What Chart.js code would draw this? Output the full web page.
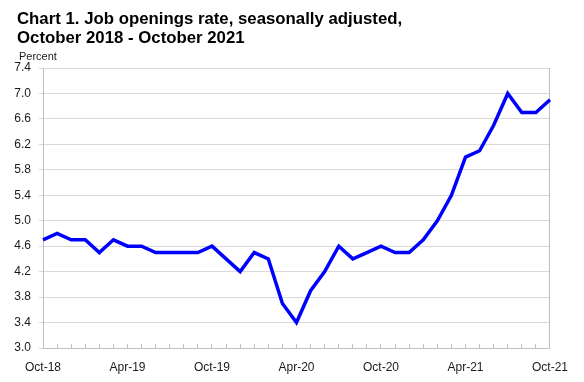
<!DOCTYPE html>
<html>
<head>
<meta charset="utf-8">
<script src="https://cdn.jsdelivr.net/npm/chart.js@4"></script>
<style>
  html, body { margin: 0; padding: 0; background: #ffffff; }
  #wrap { position: relative; width: 584px; height: 382px; overflow: hidden; }
  canvas { display: block; position: absolute; left: 0; top: 0; }
  #title {
    position: absolute; left: 17px; top: 9px; margin: 0;
    font-family: 'Liberation Sans', Arial, sans-serif; font-weight: bold;
    font-size: 16.8px; line-height: 19px; color: #000; white-space: nowrap;
  }
  #ylabel {
    position: absolute; left: 19px; top: 50px;
    font-family: 'Liberation Sans', Arial, sans-serif;
    font-size: 11px; line-height: 13px; color: #1a1a1a; white-space: nowrap;
  }
</style>
</head>
<body>
<div id="wrap">
  <canvas id="chart" width="584" height="382"></canvas>
  <div id="title"></div>
  <div id="ylabel"></div>
</div>
<script>
const titleLines = ['Chart 1. Job openings rate, seasonally adjusted,', 'October 2018 - October 2021'];
const yAxisLabel = 'Percent';
const months = [
  'Oct-18','Nov-18','Dec-18','Jan-19','Feb-19','Mar-19','Apr-19','May-19','Jun-19','Jul-19','Aug-19','Sep-19',
  'Oct-19','Nov-19','Dec-19','Jan-20','Feb-20','Mar-20','Apr-20','May-20','Jun-20','Jul-20','Aug-20','Sep-20',
  'Oct-20','Nov-20','Dec-20','Jan-21','Feb-21','Mar-21','Apr-21','May-21','Jun-21','Jul-21','Aug-21','Sep-21',
  'Oct-21'
];
const rates = [
  4.7, 4.8, 4.7, 4.7, 4.5, 4.7, 4.6, 4.6, 4.5, 4.5, 4.5, 4.5,
  4.6, 4.4, 4.2, 4.5, 4.4, 3.7, 3.4, 3.9, 4.2, 4.6, 4.4, 4.5,
  4.6, 4.5, 4.5, 4.7, 5.0, 5.4, 6.0, 6.1, 6.5, 7.0, 6.7, 6.7,
  6.9
];
const xTickLabels = ['Oct-18', 'Apr-19', 'Oct-19', 'Apr-20', 'Oct-20', 'Apr-21', 'Oct-21'];
const yMin = 3.0, yMax = 7.4, yStep = 0.4;

document.getElementById('title').innerHTML = titleLines.map(function (t) {
  return t.replace(/&/g, '&amp;').replace(/</g, '&lt;');
}).join('<br>');
document.getElementById('ylabel').textContent = yAxisLabel;

Chart.defaults.font.family = "'Liberation Sans', Arial, sans-serif";
Chart.defaults.color = '#1a1a1a';

const axisGray = '#bfbfbf';
const gridGray = '#d9d9d9';

new Chart(document.getElementById('chart'), {
  type: 'line',
  data: {
    labels: months,
    datasets: [{
      label: 'Job openings rate',
      data: rates,
      borderColor: '#0000ff',
      backgroundColor: '#0000ff',
      borderWidth: 3.5,
      pointRadius: 0,
      tension: 0,
      fill: false
    }]
  },
  options: {
    responsive: false,
    animation: false,
    layout: { padding: { left: 0, right: 0, top: 68, bottom: 0 } },
    plugins: {
      legend: { display: false },
      tooltip: { enabled: false },
      title: { display: false },
      subtitle: { display: false }
    },
    scales: {
      x: {
        type: 'category',
        offset: false,
        grid: {
          drawOnChartArea: false,
          drawTicks: true,
          tickLength: -4,
          color: axisGray
        },
        border: { display: true, color: axisGray, width: 1 },
        ticks: {
          autoSkip: false,
          maxRotation: 0,
          minRotation: 0,
          padding: 16,
          font: { size: 12 },
          callback: function (value, index) {
            const lab = months[index];
            return xTickLabels.includes(lab) ? lab : '';
          }
        },
        afterFit: function (scale) { scale.height = 34; }
      },
      y: {
        type: 'linear',
        position: 'left',
        min: yMin,
        max: yMax,
        grid: {
          color: gridGray,
          lineWidth: 1,
          drawTicks: true,
          tickLength: 4
        },
        border: { display: true, color: axisGray, width: 1 },
        ticks: {
          stepSize: yStep,
          padding: 8,
          font: { size: 12 },
          callback: function (v) { return Number(v).toFixed(1); }
        },
        afterFit: function (scale) { scale.width = 43; }
      },
      yRight: {
        type: 'linear',
        position: 'right',
        min: yMin,
        max: yMax,
        grid: { drawOnChartArea: false, drawTicks: false },
        border: { display: true, color: axisGray, width: 1 },
        ticks: { display: false },
        afterFit: function (scale) { scale.width = 28; }
      }
    }
  }
});
</script>
</body>
</html>
